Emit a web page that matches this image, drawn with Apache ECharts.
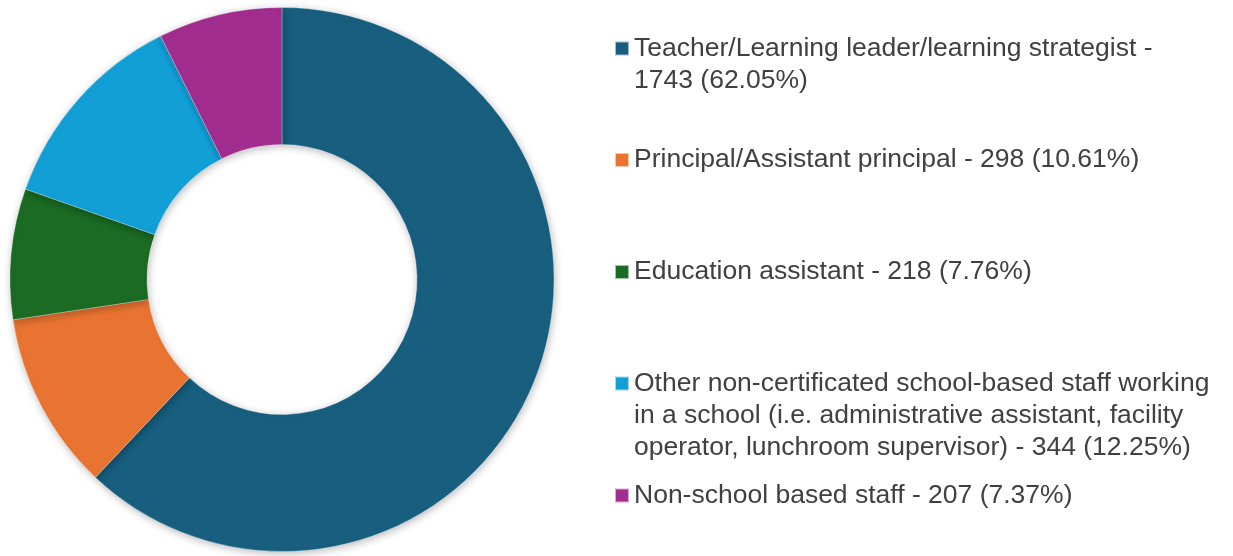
<!DOCTYPE html>
<html>
<head>
<meta charset="utf-8">
<script src="https://cdn.jsdelivr.net/npm/echarts@6/dist/echarts.min.js"></script>
<style>
html,body{margin:0;padding:0;background:#fff;}
#chart{width:1233px;height:556px;}
</style>
</head>
<body>
<div id="chart"></div>
<script>
var categories = [
  'Teacher/Learning leader/learning strategist',
  'Principal/Assistant principal',
  'Education assistant',
  'Other non-certificated school-based staff working in a school (i.e. administrative assistant, facility operator, lunchroom supervisor)',
  'Non-school based staff'
];
var counts = [1743, 298, 218, 344, 207];
var percents = ['62.05', '10.61', '7.76', '12.25', '7.37'];
var colors = ['#175E7F', '#E97432', '#1B6B24', '#119FD6', '#A12D8F'];
var legendLines = [2, 1, 1, 3, 1];
var legendCenters = [48.5, 160, 272, 383.5, 495.5];

var LH = 32;
var labelOf = {};
categories.forEach(function (c, i) {
  labelOf[c] = c + ' - ' + counts[i] + ' (' + percents[i] + '%)';
});

function pad(n) {
  var s = '';
  for (var k = 1; k < n; k++) s += ' \n';
  return s;
}

var legends = categories.map(function (c, i) {
  var n = legendLines[i];
  return {
    data: [c],
    left: 614,
    top: legendCenters[i] - (2 * n - 1) * LH / 2,
    padding: 0,
    orient: 'vertical',
    icon: 'rect',
    itemWidth: 14,
    itemHeight: 14,
    itemGap: 0,
    selectedMode: false,
    formatter: function (name) { return pad(n) + labelOf[name]; },
    textStyle: {
      fontFamily: 'Liberation Sans, Arial, sans-serif',
      fontSize: 26.5,
      color: '#404040',
      lineHeight: LH,
      width: 584,
      overflow: 'break'
    }
  };
});

var chart = echarts.init(document.getElementById('chart'), null, {renderer: 'canvas'});
chart.setOption({
  animation: false,
  color: colors,
  legend: legends,
  series: [{
    type: 'pie',
    center: [282, 279.5],
    radius: [135, 272],
    startAngle: 90,
    clockwise: true,
    label: {show: false},
    labelLine: {show: false},
    emphasis: {disabled: true},
    itemStyle: {
      borderColor: 'rgba(255,255,255,0.6)',
      borderWidth: 0.5,
      shadowBlur: 8,
      shadowColor: 'rgba(0,0,0,0.28)',
      shadowOffsetX: 1,
      shadowOffsetY: 2
    },
    data: categories.map(function (c, i) {
      return {name: c, value: counts[i]};
    })
  }]
});
</script>
</body>
</html>
